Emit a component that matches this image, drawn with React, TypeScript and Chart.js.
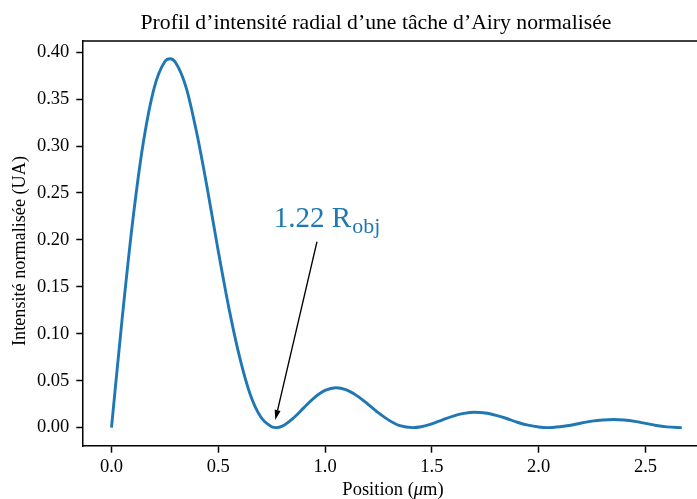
import React, { useEffect, useRef } from "react";
import { Chart, registerables } from "chart.js";

Chart.register(...registerables);

// ---- Data ----
const positions = [
  0, 0.05, 0.1, 0.15, 0.2, 0.25, 0.275, 0.3, 0.35, 0.4, 0.45, 0.5, 0.55, 0.6, 0.65, 0.7, 0.75, 0.77,
  0.8, 0.85, 0.9, 0.95, 1.0, 1.05, 1.1, 1.15, 1.2, 1.25, 1.3, 1.35, 1.41, 1.45, 1.5, 1.55, 1.6,
  1.65, 1.7, 1.75, 1.8, 1.85, 1.9, 1.95, 2.0, 2.04, 2.1, 2.15, 2.2, 2.25, 2.3, 2.35, 2.4, 2.45,
  2.5, 2.55, 2.6, 2.65, 2.67,
];
const intensity = [
  0, 0.116, 0.221, 0.305, 0.362, 0.39, 0.393, 0.389, 0.362, 0.313, 0.253, 0.188, 0.127, 0.075,
  0.035, 0.011, 0.001, 0, 0.0016, 0.0098, 0.021, 0.032, 0.0396, 0.0425, 0.0402, 0.0338, 0.025,
  0.0156, 0.0077, 0.002, 0, 0.0009, 0.004, 0.0083, 0.0123, 0.0151, 0.0164, 0.0156, 0.0131,
  0.0097, 0.0057, 0.0026, 0.0006, 0, 0.0009, 0.0025, 0.0049, 0.0069, 0.0081, 0.0087, 0.0081,
  0.0066, 0.0045, 0.0023, 0.0008, 0.0001, 0,
];
const xTicks = [0, 0.5, 1.0, 1.5, 2.0, 2.5];
const yTicks = [0, 0.05, 0.1, 0.15, 0.2, 0.25, 0.3, 0.35, 0.4];

const TITLE = "Profil d’intensité radial d’une tâche d’Airy normalisée";
const Y_LABEL = "Intensité normalisée (UA)";
const X_LABEL_A = "Position (";
const X_LABEL_MU = "μ";
const X_LABEL_B = "m)";
const ANNOT_MAIN = "1.22 R";
const ANNOT_SUB = "obj";

// annotation anchor points (data coordinates)
const ANNOT_TEXT_X = 0.76;
const ANNOT_TEXT_Y = 0.2134;
const ARROW_FROM = { x: 0.962, y: 0.198 };
const ARROW_TO = { x: 0.767, y: 0.0081 };

const LINE_COLOR = "#1f77b4";
const FONT = "'Liberation Serif', 'Times New Roman', serif";

function fitSize(ctx: CanvasRenderingContext2D, text: string, target: number, style = "") {
  ctx.font = `${style}20px ${FONT}`;
  const w = ctx.measureText(text).width;
  return (20 * target) / w;
}

const overlay = {
  id: "overlay",
  afterDraw(chart: any) {
    const { ctx, chartArea: ca, scales } = chart;
    const xs = scales.x;
    const ys = scales.y;
    ctx.save();
    // top spine
    ctx.strokeStyle = "#000";
    ctx.lineWidth = 1.5;
    ctx.beginPath();
    ctx.moveTo(ca.left - 0.75, ca.top);
    ctx.lineTo(ca.right, ca.top);
    ctx.stroke();

    ctx.fillStyle = "#000";
    // title
    const ts = fitSize(ctx, TITLE, 471);
    ctx.font = `${ts}px ${FONT}`;
    ctx.textAlign = "center";
    ctx.textBaseline = "alphabetic";
    ctx.fillText(TITLE, 376, 29);

    // x label with italic mu
    const xlSize = 18.5;
    ctx.font = `${xlSize}px ${FONT}`;
    const wa = ctx.measureText(X_LABEL_A).width;
    const wb = ctx.measureText(X_LABEL_B).width;
    ctx.font = `italic ${xlSize}px ${FONT}`;
    const wm = ctx.measureText(X_LABEL_MU).width;
    const total = wa + wm + wb;
    const sx = 393 - total / 2;
    ctx.textAlign = "left";
    ctx.font = `${xlSize}px ${FONT}`;
    ctx.fillText(X_LABEL_A, sx, 495);
    ctx.font = `italic ${xlSize}px ${FONT}`;
    ctx.fillText(X_LABEL_MU, sx + wa, 495);
    ctx.font = `${xlSize}px ${FONT}`;
    ctx.fillText(X_LABEL_B, sx + wa + wm, 495);

    // y label
    const yl = fitSize(ctx, Y_LABEL, 190);
    ctx.save();
    ctx.translate(20, 251);
    ctx.rotate(-Math.PI / 2);
    ctx.font = `${yl}px ${FONT}`;
    ctx.textAlign = "center";
    ctx.textBaseline = "middle";
    ctx.fillText(Y_LABEL, 0, 0);
    ctx.restore();

    // annotation text
    const tx = xs.getPixelForValue(ANNOT_TEXT_X);
    const ty = ys.getPixelForValue(ANNOT_TEXT_Y);
    ctx.fillStyle = LINE_COLOR;
    ctx.textAlign = "left";
    ctx.textBaseline = "alphabetic";
    ctx.font = `29px ${FONT}`;
    ctx.fillText(ANNOT_MAIN, tx, ty);
    const mw = ctx.measureText(ANNOT_MAIN).width;
    ctx.font = `22px ${FONT}`;
    ctx.fillText(ANNOT_SUB, tx + mw + 1, ty + 6);

    // arrow
    const x1 = xs.getPixelForValue(ARROW_FROM.x);
    const y1 = ys.getPixelForValue(ARROW_FROM.y);
    const x2 = xs.getPixelForValue(ARROW_TO.x);
    const y2 = ys.getPixelForValue(ARROW_TO.y);
    const ang = Math.atan2(y2 - y1, x2 - x1);
    const hl = 10;
    const hw = 3;
    const bx = x2 - hl * Math.cos(ang);
    const by = y2 - hl * Math.sin(ang);
    ctx.strokeStyle = "#000";
    ctx.lineWidth = 1.3;
    ctx.beginPath();
    ctx.moveTo(x1, y1);
    ctx.lineTo(bx, by);
    ctx.stroke();
    ctx.fillStyle = "#000";
    ctx.beginPath();
    ctx.moveTo(x2, y2);
    ctx.lineTo(bx + hw * Math.sin(ang), by - hw * Math.cos(ang));
    ctx.lineTo(bx - hw * Math.sin(ang), by + hw * Math.cos(ang));
    ctx.closePath();
    ctx.fill();
    ctx.restore();
  },
};

export default function App() {
  const ref = useRef<HTMLCanvasElement | null>(null);
  useEffect(() => {
    if (!ref.current) return;
    const data = positions.map((p, i) => ({ x: p, y: intensity[i] }));
    const chart = new Chart(ref.current, {
      type: "line",
      data: {
        datasets: [
          {
            data,
            borderColor: LINE_COLOR,
            borderWidth: 2.9,
            pointRadius: 0,
            fill: false,
            cubicInterpolationMode: "monotone",
          },
        ],
      },
      options: {
        responsive: false,
        animation: false,
        devicePixelRatio: 1,
        layout: { padding: { top: 41, left: 0, right: 0, bottom: 0 } },
        plugins: { legend: { display: false }, title: { display: false }, tooltip: { enabled: false } },
        scales: {
          x: {
            type: "linear",
            min: -0.1333,
            max: 2.7412,
            afterBuildTicks: (s: any) => {
              s.ticks = xTicks.map((v) => ({ value: v }));
            },
            afterFit: (s: any) => {
              s.height = 53;
            },
            border: { color: "#000", width: 1.5 },
            grid: { drawOnChartArea: false, drawTicks: true, tickLength: 6.7, tickWidth: 1.5, tickColor: "#000" },
            ticks: {
              color: "#000",
              padding: 3,
              maxRotation: 0,
              font: { family: FONT, size: 18.5 },
              callback: (v: any) => Number(v).toFixed(1),
            },
          },
          y: {
            type: "linear",
            min: -0.0196,
            max: 0.4119,
            afterBuildTicks: (s: any) => {
              s.ticks = yTicks.map((v) => ({ value: v }));
            },
            afterFit: (s: any) => {
              s.width = 83;
            },
            border: { color: "#000", width: 1.5 },
            grid: { drawOnChartArea: false, drawTicks: true, tickLength: 6.7, tickWidth: 1.5, tickColor: "#000" },
            ticks: {
              color: "#000",
              padding: 7,
              font: { family: FONT, size: 18.5 },
              callback: (v: any) => Number(v).toFixed(2),
            },
          },
        },
      },
      plugins: [overlay],
    } as any);
    return () => chart.destroy();
  }, []);
  return (
    <div style={{ position: "absolute", left: 0, top: 0, width: 697, height: 499, background: "#fff" }}>
      <canvas ref={ref} width={697} height={499} style={{ width: 697, height: 499, display: "block" }} />
    </div>
  );
}
